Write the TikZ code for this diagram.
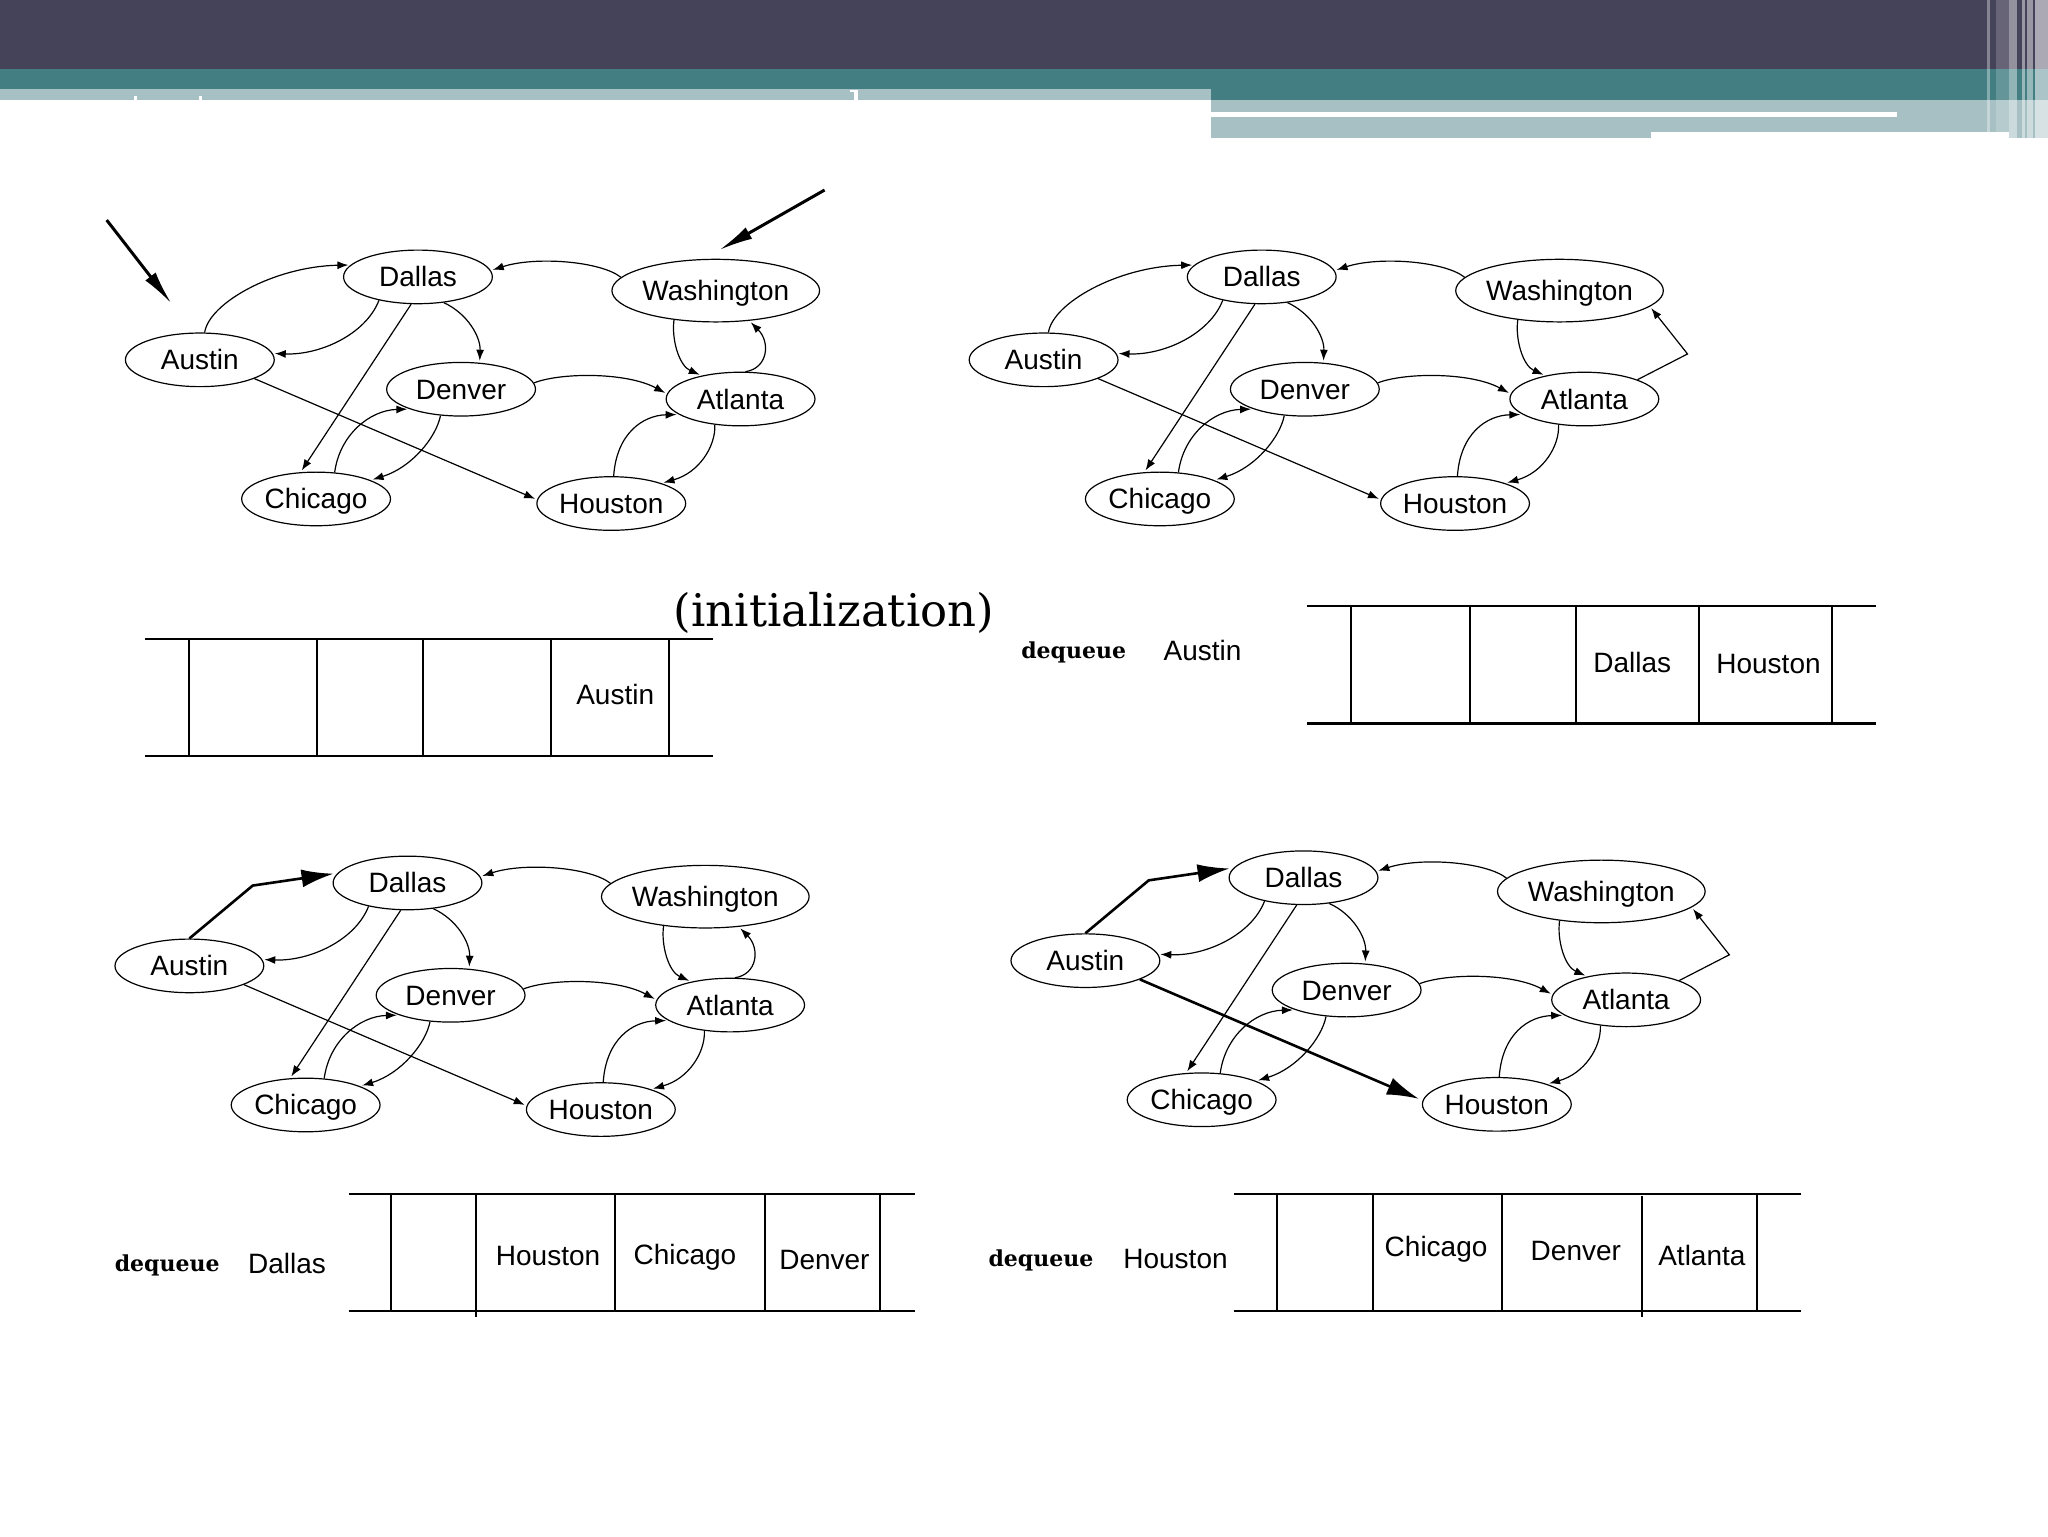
\documentclass[tikz,border=0pt]{standalone}
\usepackage{fontspec}
\setsansfont{Liberation Sans}
\newfontfamily\dqfont{DejaVu Serif}
\usetikzlibrary{shapes.geometric,arrows.meta}
\definecolor{hdark}{RGB}{69,67,89}
\definecolor{hteal}{RGB}{67,126,131}
\definecolor{hlight}{RGB}{166,192,196}
\tikzset{
 city/.style={ellipse, draw, line width=0.6pt, inner sep=0pt, minimum width=74.4pt, minimum height=26.8pt,
   font=\sffamily\fontsize{14}{16}\selectfont, text height=10pt, text depth=0pt},
 wide/.style={minimum width=99.9pt, minimum height=31.3pt},
 link/.style={line width=0.6pt, -{Latex[length=5.5pt,width=4pt]}, shorten >=1pt},
 thicklink/.style={line width=1.3pt, -{Latex[length=16pt,width=9pt]}, shorten >=2pt},
 freearrow/.style={line width=1.5pt, -{Latex[length=17pt,width=6.5pt]}},
 qh/.style={line width=1.2pt},
 qv/.style={line width=1pt},
 qtext/.style={font=\sffamily\fontsize{14}{16}\selectfont, text height=10pt, text depth=0pt, inner sep=0pt},
 dq/.style={font=\dqfont\bfseries\fontsize{11}{13}\selectfont, inner sep=0pt},
}
\newcommand\citygraph[1]{%
  \node[city] (#1dal) at (320,212) {Dallas};
  \node[city,wide] (#1was) at (548,222.5) {Washington};
  \node[city] (#1aus) at (153,275.5) {Austin};
  \node[city] (#1den) at (353,298) {Denver};
  \node[city] (#1atl) at (567,305.5) {Atlanta};
  \node[city] (#1chi) at (242,382) {Chicago};
  \node[city] (#1hou) at (468,385.5) {Houston};
  \draw[link] (#1dal.211) .. controls (280,256) and (245,272) .. (#1aus.5);
  \draw[link] (#1dal.256) -- (#1chi.120);
  \draw[link] (#1dal.315) .. controls (358,240) and (368,258) .. (#1den.55);
  \draw[link] (#1was.172) .. controls (460,200) and (410,196) .. (#1dal.5);
  \draw[link] (#1was.215) .. controls (514,260) and (520,280) .. (#1atl.149);
  \draw[link] (#1den.5) .. controls (430,285) and (480,285) .. (#1atl.176);
  \draw[link] (#1chi.55) .. controls (260,333) and (283,314) .. (#1den.201);
  \draw[link] (#1den.232) .. controls (334,335) and (315,358) .. (#1chi.19);
  \draw[link] (#1hou.85) .. controls (472,332) and (492,318) .. (#1atl.194);
  \draw[link] (#1atl.225) .. controls (548,342) and (535,362) .. (#1hou.22);
}
\begin{document}
\begin{tikzpicture}[x=0.65306pt,y=-0.65306pt]
\useasboundingbox (0,0) rectangle (1568,1176);
\fill[white] (0,0) rectangle (1568,1176);
% header
\begin{scope}[x=0.5pt,y=-0.5pt]
  \fill[hdark] (0,0) rectangle (2048,69);
  \fill[hteal] (0,69) rectangle (2048,100);
  \fill[hlight] (0,89) rectangle (1211,100);
  \fill[hlight] (1211,100) rectangle (1651,138);
  \fill[hlight] (1651,100) rectangle (2009,132);
  \fill[hlight] (2009,100) rectangle (2048,138);
  \fill[white] (1211,111.5) rectangle (1897,117);
  \fill[white] (134,96) rectangle (136.5,101);
  \fill[white] (199,96) rectangle (201.5,101);
  \fill[white] (854,90) rectangle (857.5,101);
  \fill[white] (850,90) rectangle (857.5,92);
  \fill[white,opacity=.35] (1987,0) rectangle (1989.5,132);
  \fill[white,opacity=.18] (1996,0) rectangle (2009,132);
  \fill[white,opacity=.42] (2009,0) rectangle (2017,138);
  \fill[white,opacity=.45] (2022,0) rectangle (2025,138);
  \fill[white,opacity=.45] (2027,0) rectangle (2033,138);
  \fill[white,opacity=.55] (2035,0) rectangle (2048,138);
\end{scope}
% graph 1
\citygraph{a}
\draw[link] (aaus.80) .. controls (160,232) and (210,204) .. (adal.170);
\draw[link] (aaus.341) -- (ahou.177);
\draw[link] (aatl.80) .. controls (588,282) and (590,262) .. (awas.318);
\coordinate (pa1) at (81.7,168.5);
\coordinate (pa2) at (131.2,232.3);
\coordinate (pb1) at (631.3,145.5);
\coordinate (pb2) at (550.7,191.4);
\draw[freearrow] (pa1) -- (pa2);
\draw[freearrow] (pb1) -- (pb2);
% graph 2
\begin{scope}[shift={(646,0)}]
  \citygraph{b}
  \draw[link] (baus.80) .. controls (160,232) and (210,204) .. (bdal.170);
  \draw[link] (baus.341) -- (bhou.177);
  \coordinate (bk) at (646,271);
  \draw[link] (batl.20) -- (bk) -- (bwas.350);
\end{scope}
% graph 3
\begin{scope}[shift={(-8,464)}]
  \citygraph{c}
  \coordinate (ck) at (201.5,214);
  \draw[thicklink] (caus.90) -- (ck) -- (cdal.172);
  \draw[link] (caus.341) -- (chou.177);
  \draw[link] (catl.80) .. controls (588,282) and (590,262) .. (cwas.318);
\end{scope}
% graph 4
\begin{scope}[shift={(678,460)}]
  \citygraph{d}
  \coordinate (dk) at (201.5,214);
  \draw[thicklink] (daus.90) -- (dk) -- (ddal.172);
  \draw[thicklink] (daus.341) -- (dhou.177);
  \coordinate (dk2) at (646,271);
  \draw[link] (datl.20) -- (dk2) -- (dwas.350);
\end{scope}
% initialization label
\node[font=\dqfont\fontsize{22.5}{26}\selectfont, inner sep=0pt] (init) at (638.5,469) {(initialization)};
% queue 1
\draw[qh] (111,489) -- (546,489) (111,579) -- (546,579);
\foreach \x in {145,243,324,422,512} \draw[qv] (\x,489) -- (\x,579);
\node[qtext] (q1a) at (471,532) {Austin};
% queue 2
\node[dq] (q2d) at (822,499.5) {dequeue};
\node[qtext] (q2x) at (920.7,497.7) {Austin};
\draw[qh] (1001,464) -- (1436,464) (1001,554) -- (1436,554);
\foreach \x in {1034.7,1125.2,1206.5,1301,1402.5} \draw[qv] (\x,464) -- (\x,554);
\node[qtext] (q2a) at (1249.7,507) {Dallas};
\node[qtext] (q2b) at (1354,508) {Houston};
% queue 3
\node[dq] (q3d) at (128,968.6) {dequeue};
\node[qtext] (q3x) at (219.7,967.4) {Dallas};
\draw[qh] (266.9,914.3) -- (700.5,914.3) (266.9,1003.8) -- (700.5,1003.8);
\foreach \x in {299.2,470.6,585.6,673.6} \draw[qv] (\x,914.3) -- (\x,1003.8);
\draw[qv] (364.8,914.3) -- (364.8,1008);
\node[qtext] (q3a) at (419.6,961) {Houston};
\node[qtext] (q3b) at (524.4,960.5) {Chicago};
\node[qtext] (q3c) at (631.2,964) {Denver};
% queue 4
\node[dq] (q4d) at (797,964.8) {dequeue};
\node[qtext] (q4x) at (900,963.5) {Houston};
\draw[qh] (945.1,914.3) -- (1378.5,914.3) (945.1,1003.8) -- (1378.5,1003.8);
\foreach \x in {977.9,1050.9,1149.6,1345} \draw[qv] (\x,914.3) -- (\x,1003.8);
\draw[qv] (1257.2,916) -- (1257.2,1008);
\node[qtext] (q4a) at (1099.5,954) {Chicago};
\node[qtext] (q4b) at (1206.5,957.2) {Denver};
\node[qtext] (q4c) at (1303,961) {Atlanta};
\end{tikzpicture}
\end{document}
